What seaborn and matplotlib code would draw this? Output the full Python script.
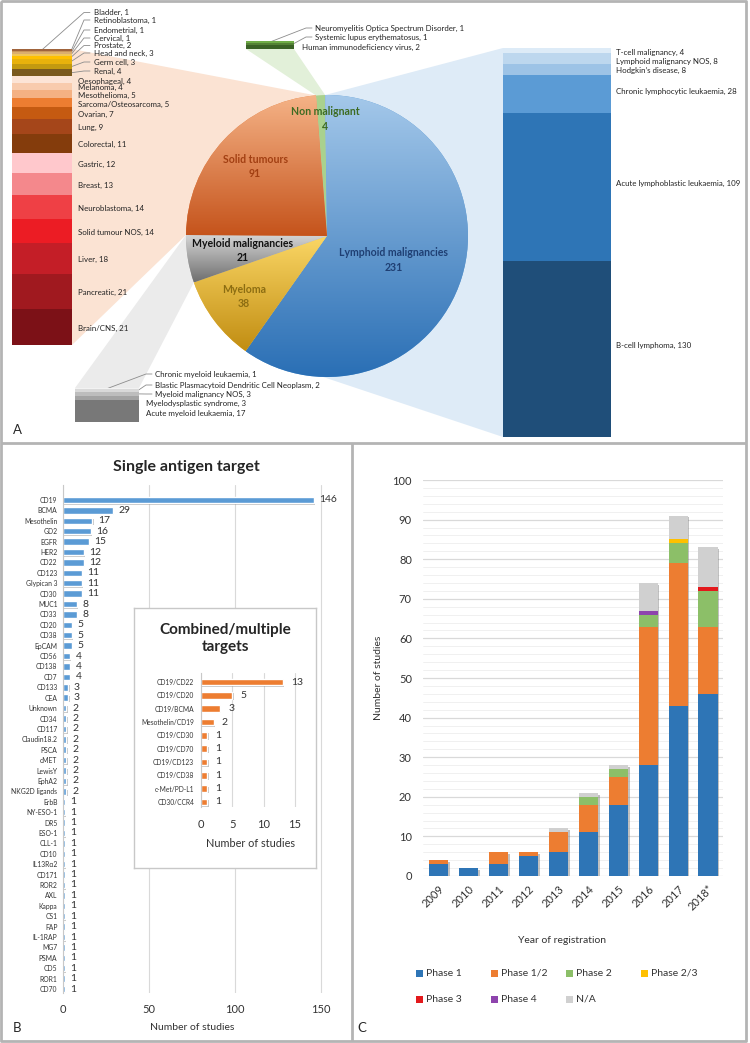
import numpy as np
import matplotlib
matplotlib.use('Agg')
import matplotlib.pyplot as plt
import seaborn as sns
from matplotlib.colors import LinearSegmentedColormap
from matplotlib.patches import Polygon, Rectangle
import matplotlib.patheffects as pe

# ---------------- data ----------------
pie_groups = ['Non malignant', 'Lymphoid malignancies', 'Myeloma',
              'Myeloid malignancies', 'Solid tumours']
pie_counts = [4, 231, 38, 21, 91]

solid_types = ['Bladder', 'Retinoblastoma', 'Endometrial', 'Cervical', 'Prostate',
               'Head and neck', 'Germ cell', 'Renal', 'Oesophageal', 'Melanoma',
               'Mesothelioma', 'Sarcoma/Osteosarcoma', 'Ovarian', 'Lung', 'Colorectal',
               'Gastric', 'Breast', 'Neuroblastoma', 'Solid tumour NOS', 'Liver',
               'Pancreatic', 'Brain/CNS']
solid_counts = [1, 1, 1, 1, 2, 3, 3, 4, 4, 4, 5, 5, 7, 9, 11, 12, 13, 14, 14, 18, 21, 21]

lymph_types = ['T-cell malignancy', 'Lymphoid malignancy NOS', 'Hodgkin\u2019s disease',
               'Chronic lymphocytic leukaemia', 'Acute lymphoblastic leukaemia',
               'B-cell lymphoma']
lymph_counts = [4, 8, 8, 28, 109, 130]

myeloid_types = ['Chronic myeloid leukaemia', 'Blastic Plasmacytoid Dendritic Cell Neoplasm',
                 'Myeloid malignancy NOS', 'Myelodysplastic syndrome', 'Acute myeloid leukaemia']
myeloid_counts = [1, 2, 3, 3, 17]

nonmal_types = ['Neuromyelitis Optica Spectrum Disorder', 'Systemic lupus erythematosus',
                'Human immunodeficiency virus']
nonmal_counts = [1, 1, 2]

single_targets = ['CD19', 'BCMA', 'Mesothelin', 'GD2', 'EGFR', 'HER2', 'CD22', 'CD123',
                  'Glypican 3', 'CD30', 'MUC1', 'CD33', 'CD20', 'CD38', 'EpCAM', 'CD56',
                  'CD138', 'CD7', 'CD133', 'CEA', 'Unknown', 'CD34', 'CD117', 'Claudin18.2',
                  'PSCA', 'cMET', 'LewisY', 'EphA2', 'NKG2D ligands', 'ErbB', 'NY-ESO-1',
                  'DR5', 'ESO-1', 'CLL-1', 'CD10', 'IL13R\u03b12', 'CD171', 'ROR2', 'AXL',
                  'Kappa', 'CS1', 'FAP', 'IL-1RAP', 'MG7', 'PSMA', 'CD5', 'ROR1', 'CD70']
single_counts = [146, 29, 17, 16, 15, 12, 12, 11, 11, 11, 8, 8, 5, 5, 5, 4, 4, 4, 3, 3,
                 2, 2, 2, 2, 2, 2, 2, 2, 2, 1, 1, 1, 1, 1, 1, 1, 1, 1, 1, 1, 1, 1, 1, 1,
                 1, 1, 1, 1]

combo_targets = ['CD19/CD22', 'CD19/CD20', 'CD19/BCMA', 'Mesothelin/CD19', 'CD19/CD30',
                 'CD19/CD70', 'CD19/CD123', 'CD19/CD38', 'c-Met/PD-L1', 'CD30/CCR4']
combo_counts = [13, 5, 3, 2, 1, 1, 1, 1, 1, 1]

years = ['2009', '2010', '2011', '2012', '2013', '2014', '2015', '2016', '2017', '2018*']
phase_names = ['Phase 1', 'Phase 1/2', 'Phase 2', 'Phase 2/3', 'Phase 3', 'Phase 4', 'N/A']
phase1 = [3, 2, 3, 5, 6, 11, 18, 28, 43, 46]
phase12 = [1, 0, 3, 1, 5, 7, 7, 35, 36, 17]
phase2 = [0, 0, 0, 0, 0, 2, 2, 3, 5, 9]
phase23 = [0, 0, 0, 0, 0, 0, 0, 0, 1, 0]
phase3 = [0, 0, 0, 0, 0, 0, 0, 0, 0, 1]
phase4 = [0, 0, 0, 0, 0, 0, 0, 1, 0, 0]
phase_na = [0, 0, 0, 0, 1, 1, 1, 7, 6, 10]

# ---------------- colours ----------------
solid_colors = ['#a0643c', '#c8955a', '#dcae6e', '#f0c75a', '#ffc000', '#e8b20c', '#c39a10',
                '#7a5a1e', '#fce4d6', '#f8cbad', '#f4b183', '#ed7d31', '#c55a11', '#a5461a',
                '#843c0c', '#ffc8cc', '#f4888c', '#ef4045', '#ec1c24', '#c41e27', '#a0191f',
                '#7c1117']
lymph_colors = ['#ddebf7', '#bdd7ee', '#9dc3e6', '#5b9bd5', '#2e75b6', '#1f4e79']
myeloid_colors = ['#f2f2f2', '#d9d9d9', '#bdbdbd', '#a3a3a3', '#787878']
nonmal_colors = ['#70ad47', '#548235', '#3a6125']
phase_colors = ['#2e75b6', '#ed7d31', '#8cbf68', '#ffc000', '#e3191c', '#8e44ad', '#d0d0d0']

sns.set_style('white')
plt.rcParams['font.family'] = ['Lato', 'DejaVu Sans']

W, H = 750, 1043
fig = plt.figure(figsize=(W / 100, H / 100), dpi=100)


def px(x0, y0, w, h):
    return [x0 / W, 1 - (y0 + h) / H, w / W, h / H]


ov = fig.add_axes([0, 0, 1, 1])
ov.set_xlim(0, W)
ov.set_ylim(H, 0)
ov.axis('off')


def to_px(ax, x, y):
    return ov.transData.inverted().transform(ax.transData.transform((x, y)))


def label(x, y, s, size=5.7, **kw):
    ov.text(x, y, s, fontsize=size, va='center', ha='left', color='#222222', **kw)


def leader(p0, x1, y1):
    ov.plot([p0[0], x1, x1 + 6], [p0[1], y1, y1], color='#8c8c8c', lw=0.6)


# frame
frame = dict(color='#b4b4b4', lw=2, solid_capstyle='butt')
ov.plot([1, 746, 746, 1, 1], [1, 1, 1041, 1041, 1], **frame)
ov.plot([1, 746], [443, 443], **frame)
ov.plot([352, 352], [443, 1041], **frame)

# ---------------- panel A: pie ----------------
ax_pie = fig.add_axes(px(186, 95, 282, 282))
pie_flat = ['#a9d18e', '#5b9bd5', '#f2c14e', '#a6a6a6', '#e07b3c']
wedges, _ = ax_pie.pie(pie_counts, colors=pie_flat, startangle=94.5, counterclock=False,
                       wedgeprops=dict(linewidth=0))
grads = [None, ('#a4c8ea', '#2a6fb5'), ('#fbd766', '#c18d12'),
         ('#d6d6d6', '#6f6f6f'), ('#f5b387', '#c5531b')]
for w, g in zip(wedges, grads):
    if g is None:
        continue
    bb = w.get_path().get_extents()
    im = ax_pie.imshow(np.linspace(0, 1, 256).reshape(-1, 1),
                       cmap=LinearSegmentedColormap.from_list('g', g),
                       extent=(bb.x0, bb.x1, bb.y0, bb.y1), origin='upper',
                       aspect='auto', zorder=2)
    im.set_clip_path(w)
ax_pie.set_xlim(-1, 1)
ax_pie.set_ylim(-1, 1)
ax_pie.set_aspect('equal')
ax_pie.axis('off')

pie_label_pos = [(-0.014, 0.83), (0.47, -0.17), (-0.59, -0.43), (-0.60, -0.10), (-0.51, 0.49)]
pie_label_col = ['#3d6b22', '#1f3f73', '#8c6d12', '#111111', '#a23f12']
for name, n, (x, y), c in zip(pie_groups, pie_counts, pie_label_pos, pie_label_col):
    ax_pie.text(x, y, f'{name}\n{n}', ha='center', va='center', fontsize=7.6,
                fontweight='bold', color=c, linespacing=1.35, zorder=5)

bounds = 94.5 - 360 * np.concatenate([[0], np.cumsum(pie_counts)]) / sum(pie_counts)


def pie_pt(a):
    r = np.deg2rad(a)
    return to_px(ax_pie, np.cos(r), np.sin(r))


def stack(box, counts, colors):
    ax = fig.add_axes(px(*box))
    cum = np.concatenate([[0], np.cumsum(counts)[:-1]])
    ax.bar(0, counts, bottom=cum, width=1, color=colors, linewidth=0)
    ax.set_xlim(-0.5, 0.5)
    ax.set_ylim(sum(counts), 0)
    ax.axis('off')
    return ax, cum + np.array(counts) / 2


ax_s, mid_s = stack((12, 49, 60, 296), solid_counts, solid_colors)
ax_l, mid_l = stack((503, 48, 108, 389), lymph_counts, lymph_colors)
ax_m, mid_m = stack((75, 388, 64, 34), myeloid_counts, myeloid_colors)
ax_n, mid_n = stack((246, 41, 48, 8), nonmal_counts, nonmal_colors)

# fans
fans = [
    ([to_px(ax_s, 0.5, 0), pie_pt(bounds[5]), pie_pt(bounds[4]),
      to_px(ax_s, 0.5, sum(solid_counts))], '#fbe3d3'),
    ([to_px(ax_l, -0.5, 0), to_px(ax_l, -0.5, sum(lymph_counts)), pie_pt(bounds[2]),
      pie_pt(bounds[1])], '#deebf7'),
    ([to_px(ax_m, -0.5, 0), pie_pt(bounds[4]), pie_pt(bounds[3]), to_px(ax_m, 0.5, 0)],
     '#ebebeb'),
    ([to_px(ax_n, -0.5, sum(nonmal_counts)), pie_pt(bounds[0]), pie_pt(bounds[1]),
      to_px(ax_n, 0.5, sum(nonmal_counts))], '#e2f0d9'),
]
for pts, col in fans:
    ov.add_patch(Polygon(pts, closed=True, facecolor=col, edgecolor='none', zorder=1))

# solid tumour labels
solid_top_y = [12.5, 20, 30, 38, 45.5, 53, 62, 71]
for i, ty in enumerate(solid_top_y):
    ax_attach = 0 if i == 0 else 0.48
    leader(to_px(ax_s, ax_attach, mid_s[i]), 84, ty)
    label(94, ty, f'{solid_types[i]}, {solid_counts[i]}')
for i in range(len(solid_top_y), len(solid_types)):
    y = to_px(ax_s, 0, mid_s[i])[1]
    label(78, y + 1.5, f'{solid_types[i]}, {solid_counts[i]}')

# lymphoid labels
lymph_y = [52, 61, 70] + [to_px(ax_l, 0, m)[1] - 3 for m in mid_l[3:]]
for name, n, y in zip(lymph_types, lymph_counts, lymph_y):
    label(616, y, f'{name}, {n}')

# myeloid labels
my_pos = [(155, 374), (155, 385), (155, 394), (146, 403), (146, 413)]
for i, (name, n, (x, y)) in enumerate(zip(myeloid_types, myeloid_counts, my_pos)):
    if i < 3:
        leader(to_px(ax_m, 0 if i == 0 else 0.48, mid_m[i]), x - 9, y)
    label(x, y, f'{name}, {n}')

# non malignant labels
nm_pos = [(315, 28), (315, 37), (302, 47)]
for i, (name, n, (x, y)) in enumerate(zip(nonmal_types, nonmal_counts, nm_pos)):
    if i < 2:
        leader(to_px(ax_n, 0 if i == 0 else 0.48, mid_n[i]), x - 9, y)
    label(x, y, f'{name}, {n}')

ov.text(13, 430, 'A', fontsize=9.5, va='center')
ov.text(13, 1028, 'B', fontsize=9.5, va='center')
ov.text(357, 1028, 'C', fontsize=9.5, va='center')

# ---------------- panel B ----------------
shadow = [pe.withSimplePatchShadow(offset=(1, -1), shadow_rgbFace='#555555', alpha=0.35)]

axb = fig.add_axes(px(63, 485, 275, 508))
axb.patch.set_alpha(0)
sns.barplot(x=single_counts, y=single_targets, color='#5b9bd5', saturation=1, width=0.62,
            ax=axb, orient='h')
for p in axb.patches:
    p.set_path_effects(shadow)
axb.bar_label(axb.containers[0], padding=4, fontsize=7.5, color='#333333')
axb.set_xlim(0, 160)
axb.set_ylim(len(single_targets) - 1 + 0.38, -1.44)
axb.set_xticks([0, 50, 100, 150])
axb.grid(axis='x', color='#d9d9d9', lw=0.8)
axb.set_axisbelow(True)
for s in ['top', 'right', 'bottom']:
    axb.spines[s].set_visible(False)
axb.spines['left'].set_color('#c8c8c8')
axb.tick_params(axis='y', labelsize=4.9, length=0, pad=4, labelcolor='#333333')
axb.tick_params(axis='x', labelsize=8, length=0, pad=8, labelcolor='#333333')
axb.set_xlabel('Number of studies', fontsize=7.5, color='#333333')
axb.xaxis.set_label_coords(0.469, -0.059)
axb.set_ylabel('')
ov.text(186, 467, 'Single antigen target', fontsize=11.5, fontweight='bold',
        ha='center', va='center')

box = fig.add_axes(px(134, 608, 182, 260))
box.set_zorder(3)
box.set_facecolor('white')
box.set_xticks([])
box.set_yticks([])
for s in box.spines.values():
    s.set_color('#c8c8c8')
    s.set_linewidth(1)
box.text(0.5, 1 - 30.5 / 260, 'Combined/multiple\ntargets', transform=box.transAxes,
         fontsize=11, fontweight='bold', ha='center', va='center', linespacing=1.2)

axc = fig.add_axes(px(201, 673, 106.6, 134))
axc.set_zorder(4)
axc.patch.set_alpha(0)
sns.barplot(x=combo_counts, y=combo_targets, color='#ed7d31', saturation=1, width=0.5,
            ax=axc, orient='h')
for p in axc.patches:
    p.set_path_effects(shadow)
axc.bar_label(axc.containers[0], padding=6, fontsize=7.5, color='#333333')
axc.set_xlim(0, 17)
axc.set_ylim(len(combo_targets) - 1 + 0.38, -0.68)
axc.set_xticks([0, 5, 10, 15])
axc.grid(axis='x', color='#d9d9d9', lw=0.8)
axc.set_axisbelow(True)
for s in ['top', 'right', 'bottom']:
    axc.spines[s].set_visible(False)
axc.spines['left'].set_color('#c8c8c8')
axc.tick_params(axis='y', labelsize=4.8, length=0, pad=5, labelcolor='#333333')
axc.tick_params(axis='x', labelsize=8, length=0, pad=9, labelcolor='#333333')
axc.set_xlabel('Number of studies', fontsize=7.8, color='#333333')
axc.xaxis.set_label_coords(0.46, -0.235)
axc.set_ylabel('')

# ---------------- panel C ----------------
axp = fig.add_axes(px(423, 480, 300, 396))
axp.patch.set_alpha(0)
phase_values = [phase1, phase12, phase2, phase23, phase3, phase4, phase_na]
xpos = np.arange(len(years))
totals = np.sum(phase_values, axis=0)
axp.bar(xpos, totals, width=0.64, color='white', linewidth=0, zorder=2,
        path_effects=[pe.withSimplePatchShadow(offset=(1.2, -1.2), shadow_rgbFace='#777777',
                                               alpha=0.45)])
bottom = np.zeros(len(years))
for name, vals, col in zip(phase_names, phase_values, phase_colors):
    axp.bar(xpos, vals, bottom=bottom, width=0.64, color=col, linewidth=0, zorder=3,
            label=name)
    bottom += np.array(vals)
axp.set_xlim(-0.53, 9.5)
axp.set_ylim(0, 100)
axp.set_yticks(range(0, 101, 10))
axp.set_yticks(np.arange(0, 101, 2), minor=True)
axp.grid(which='major', axis='y', color='#d9d9d9', lw=0.9)
axp.grid(which='minor', axis='y', color='#eeeeee', lw=0.6)
axp.set_axisbelow(True)
for s in axp.spines.values():
    s.set_visible(False)
axp.set_xticks(xpos)
axp.set_xticklabels(years, rotation=45, ha='right', rotation_mode='anchor')
axp.tick_params(axis='y', which='both', labelsize=8, length=0, pad=8, labelcolor='#333333')
axp.tick_params(axis='x', labelsize=8, length=0, pad=5, labelcolor='#333333')
axp.set_ylabel('Number of studies', fontsize=7.5, color='#333333')
axp.yaxis.set_label_coords(-0.133, 0.5)
axp.set_xlabel('Year of registration', fontsize=7.5, color='#333333')
axp.xaxis.set_label_coords(0.463, -0.152)

leg_x = [416, 491, 566, 641, 416, 491, 566]
leg_y = [973, 973, 973, 973, 999, 999, 999]
for name, col, x, y in zip(phase_names, phase_colors, leg_x, leg_y):
    ov.add_patch(Rectangle((x, y - 3.5), 7, 7, facecolor=col, edgecolor='none'))
    ov.text(x + 10, y, name, fontsize=7.5, va='center', ha='left', color='#333333')

fig.savefig('out.png', dpi=100)
